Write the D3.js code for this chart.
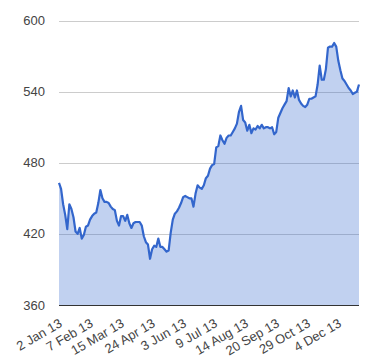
<!DOCTYPE html>
<html>
<head>
<meta charset="utf-8">
<script src="https://d3js.org/d3.v7.min.js"></script>
<style>
  body { margin: 0; background: #fff; }
  svg text { font-family: Arial, "Liberation Sans", sans-serif; }
</style>
</head>
<body>
<div id="chart-holder"></div>
<script>
// closing prices (roughly every 1.7 trading days)
var prices = [
  463, 458, 445, 436, 424, 445, 441, 434, 422, 420,
  425, 416, 419, 426, 427, 432, 435, 437, 438, 446,
  457, 450, 447, 447, 446, 443, 441, 440, 431, 427,
  435, 435, 431, 436, 429, 425, 429, 430, 430, 430,
  427, 418, 413, 411, 399, 407, 410, 409, 416, 409,
  409, 407, 405, 406, 421, 432, 437, 439, 442, 446,
  451, 452, 451, 450, 450, 443, 454, 461, 459, 458,
  461, 467, 469, 475, 478, 479, 493, 494, 503, 499,
  496, 501, 503, 503, 506, 509, 513, 523, 528, 516,
  514, 507, 512, 505, 509, 508, 511, 509, 512, 509,
  510, 510, 509, 510, 504, 506, 518, 522, 526, 529,
  532, 543, 536, 541, 535, 541, 533, 530, 528, 527,
  529, 534, 534, 535, 536, 546, 562, 550, 550, 559,
  577, 578, 578, 581, 578, 566, 558, 551, 549, 546,
  543, 541, 538, 539, 540, 546
];

// category labels, one every 15 points
var tickLabels = ["2 Jan 13", "7 Feb 13", "15 Mar 13", "24 Apr 13", "3 Jun 13",
                  "9 Jul 13", "14 Aug 13", "20 Sep 13", "29 Oct 13", "4 Dec 13"];
var tickEvery = 15;

var yTicks = [360, 420, 480, 540, 600];

var width = 380, height = 360;
var plotLeft = 59, plotRight = 359, plotTop = 20.5, plotBottom = 305;

var x = d3.scaleLinear()
  .domain([0, prices.length - 1])
  .range([plotLeft, plotRight]);

var y = d3.scaleLinear()
  .domain([360, 600])
  .range([plotBottom, plotTop]);

var svg = d3.select("#chart-holder").append("svg")
  .attr("width", width)
  .attr("height", height);

// horizontal gridlines (baseline drawn later, on top of the fill)
svg.append("g")
  .selectAll("line")
  .data(yTicks.slice(1))
  .enter()
  .append("line")
  .attr("x1", plotLeft)
  .attr("x2", plotRight)
  .attr("y1", d => Math.round(y(d)) + 0.5)
  .attr("y2", d => Math.round(y(d)) + 0.5)
  .style("stroke", "#cccccc")
  .style("stroke-width", 1);

var area = d3.area()
  .x((d, i) => x(i))
  .y0(y(360))
  .y1(d => y(d));

var line = d3.line()
  .x((d, i) => x(i))
  .y(d => y(d));

svg.append("path")
  .datum(prices)
  .attr("d", area)
  .style("fill", "#3366cc")
  .style("fill-opacity", 0.3);

svg.append("path")
  .datum(prices)
  .attr("d", line)
  .style("fill", "none")
  .style("stroke", "#3366cc")
  .style("stroke-width", 2.2)
  .style("stroke-linejoin", "round");

// baseline
svg.append("line")
  .attr("x1", plotLeft)
  .attr("x2", plotRight)
  .attr("y1", Math.round(y(360)) + 0.5)
  .attr("y2", Math.round(y(360)) + 0.5)
  .style("stroke", "#333333")
  .style("stroke-width", 1);

// y labels
svg.append("g")
  .selectAll("text")
  .data(yTicks)
  .enter()
  .append("text")
  .attr("x", 45)
  .attr("y", d => y(d))
  .attr("dy", "0.35em")
  .attr("text-anchor", "end")
  .style("font-size", "13px")
  .style("fill", "#444444")
  .text(d => d);

// slanted x labels
svg.append("g")
  .selectAll("text")
  .data(tickLabels)
  .enter()
  .append("text")
  .attr("transform", (d, i) => "translate(" + (x(i * tickEvery) + 4) + ",326) rotate(-30)")
  .attr("text-anchor", "end")
  .style("font-size", "13px")
  .style("fill", "#444444")
  .text(d => d);
</script>
</body>
</html>
